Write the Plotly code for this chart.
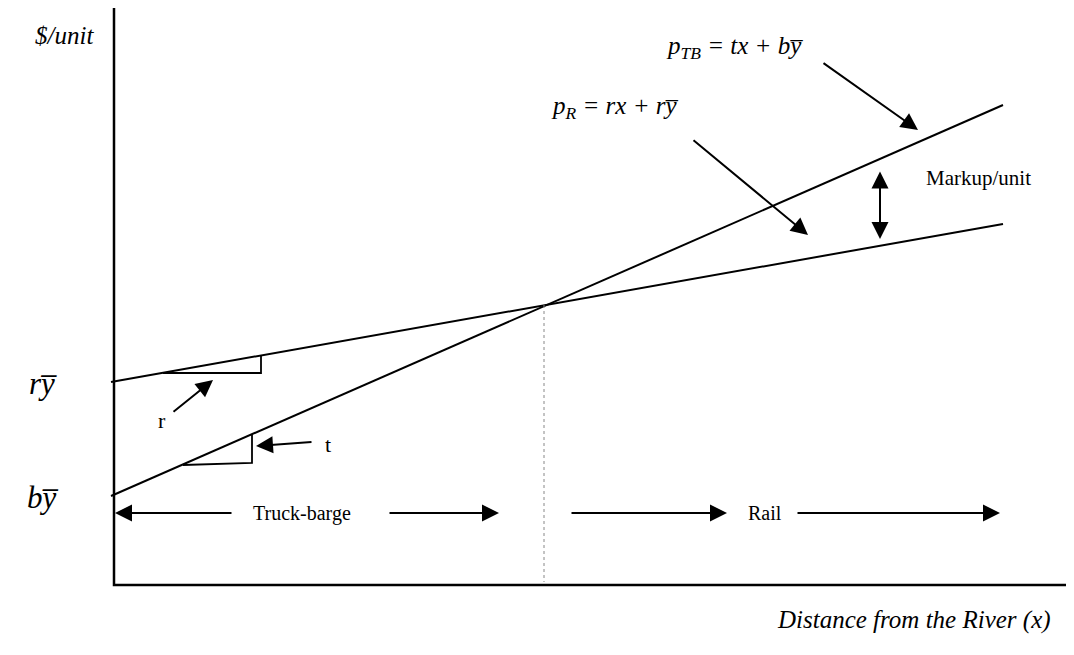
import plotly.graph_objects as go

# ---- data (diagram units: origin at axes corner) ----
x_extent = [-3, 889]                 # distance from the river range drawn
rail_price = [203, 361]              # p_R at the ends of x_extent
tb_price = [89, 480]                 # p_TB at the ends of x_extent
cross_x = 430                        # where the two price lines meet
cross_y = 280
axis_x = [0, 0, 968]
axis_y = [577, 0, 0]
r_triangle_x = [49, 147, 147]
r_triangle_y = [212, 212, 229]
t_triangle_x = [69, 138, 138]
t_triangle_y = [120, 122, 151]

FONT = "Liberation Serif"
fig = go.Figure()

# axes
fig.add_trace(go.Scatter(x=axis_x, y=axis_y, mode="lines",
                         line=dict(color="black", width=2.5), hoverinfo="skip"))
# price lines
fig.add_trace(go.Scatter(x=x_extent, y=rail_price, mode="lines",
                         line=dict(color="black", width=2), hoverinfo="skip"))
fig.add_trace(go.Scatter(x=x_extent, y=tb_price, mode="lines",
                         line=dict(color="black", width=2), hoverinfo="skip"))
# dotted vertical at crossing
fig.add_trace(go.Scatter(x=[cross_x, cross_x], y=[cross_y, 3], mode="lines",
                         line=dict(color="#888888", width=1, dash="dot"), hoverinfo="skip"))
# slope triangles
fig.add_trace(go.Scatter(x=r_triangle_x, y=r_triangle_y, mode="lines",
                         line=dict(color="black", width=1.8), hoverinfo="skip"))
fig.add_trace(go.Scatter(x=t_triangle_x, y=t_triangle_y, mode="lines",
                         line=dict(color="black", width=1.8), hoverinfo="skip"))

def arrow(x, y, ax, ay, both=False):
    fig.add_annotation(x=x, y=y, ax=ax, ay=ay, xref="x", yref="y", axref="x", ayref="y",
                       showarrow=True, arrowhead=2, arrowsize=1.7, arrowwidth=2,
                       arrowcolor="black", standoff=0, startstandoff=0,
                       arrowside="end+start" if both else "end", text="")

def label(x, y, text, size=18, xanchor="center"):
    fig.add_annotation(x=x, y=y, xref="x", yref="y", text=text, showarrow=False,
                       xanchor=xanchor, yanchor="middle",
                       font=dict(family=FONT, size=size, color="black"))

# arrows
arrow(804, 455, 708, 523)          # to p_TB line
arrow(694, 350, 578, 446)          # to p_R line
arrow(766, 346, 766, 415, both=True)  # markup
arrow(99, 205, 58, 172)            # r
arrow(142, 139, 199, 143)          # t
arrow(1, 72, 119, 72)              # truck-barge left
arrow(385, 72, 274, 72)            # truck-barge right
arrow(613, 72, 456, 72)            # rail left arrow
arrow(886, 72, 682, 72)            # rail right arrow

# labels
label(-50, 550, "<i>$/unit</i>", 25)
label(-71, 202, "<i>r</i><i>y̅</i>", 31)
label(-71, 88, "<i>b</i><i>y̅</i>", 31)
label(48, 165, "r", 22)
label(214, 141, "t", 22)
label(620, 538, "<i>p</i><sub><i>TB</i></sub><i> = tx + by̅</i>", 25)
label(501, 478, "<i>p</i><sub><i>R</i></sub><i> = rx + ry̅</i>", 25)
label(864, 407, "Markup/unit", 21)
label(188, 72, "Truck-barge", 20)
label(651, 72, "Rail", 20)
label(939, -35, "<i>Distance from the River (x)</i>", 25, xanchor="right")

fig.update_layout(
    width=1074, height=655, margin=dict(l=0, r=0, t=0, b=0),
    paper_bgcolor="white", plot_bgcolor="white", showlegend=False,
    xaxis=dict(range=[-106, 968], visible=False, fixedrange=True),
    yaxis=dict(range=[-78, 577], visible=False, fixedrange=True),
)
fig.write_html("out.html")
